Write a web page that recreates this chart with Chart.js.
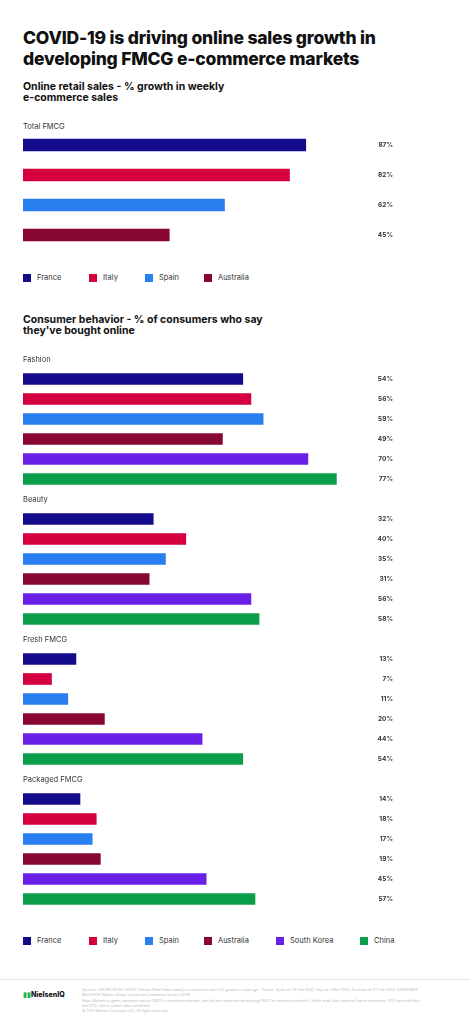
<!DOCTYPE html>
<html>
<head>
<meta charset="utf-8">
<script src="https://cdn.jsdelivr.net/npm/chart.js@4"></script>
<style>
  body { margin:0; width:470px; height:1023px; background:#fff; font-family:Inter, "Noto Sans", sans-serif; color:#111; position:relative; overflow:hidden; }
  .abs { position:absolute; }
  h1 { position:absolute; left:23px; top:27px; margin:0; font-size:17.5px; line-height:21px; font-weight:800; letter-spacing:-0.2px; }
  .sub { position:absolute; left:23px; margin:0; font-size:10.5px; line-height:11px; font-weight:700; }
  .lg { position:absolute; font-size:7.5px; color:#333; display:flex; align-items:center; }
  .lg i { display:inline-block; width:8px; height:8px; margin-right:6px; }
  .cat { position:absolute; left:23px; font-size:7.5px; color:#333; }
  canvas { position:absolute; left:0; }
  .foot { position:absolute; left:82px; top:988px; font-size:3.6px; line-height:5.3px; color:#bbb; width:345px; }
</style>
</head>
<body>
<h1>COVID-19 is driving online sales growth in<br>developing FMCG e-commerce markets</h1>
<p class="sub" style="top:81px">Online retail sales - % growth in weekly<br>e-commerce sales</p>
<div class="cat" style="top:122px">Total FMCG</div>
<canvas id="c1" style="top:130px" width="470" height="120"></canvas>
<div id="lg1"></div>
<p class="sub" style="top:314px">Consumer behavior - % of consumers who say<br>they've bought online</p>
<canvas id="c2" style="top:349px" width="470" height="560"></canvas>
<div id="lg2"></div>
<div class="abs" style="left:0;top:979px;width:470px;border-top:1px solid #e4e4e4"></div>
<div class="abs" style="left:23px;top:990px;font-size:7px;font-weight:800;color:#111"><span style="color:#1db954">&#9646;&#9646;</span>NielsenIQ</div>
<div class="foot">Sources: ONLINE RETAIL SALES: Nielsen Retail Sales weekly e-commerce sales (%) growth vs year ago - France, Spain wk 24 Feb 2020, Italy wk 2 Mar 2020, Australia wk 22 Feb 2020. CONSUMER BEHAVIOR: Nielsen Global Connected Commerce Survey (2019)<br>Note: Markets in green represent mature FMCG e-commerce markets, and the rest represent developing FMCG e-commerce markets. Online retail sales data for France represents 74% home delivery and 73% click &amp; collect sales combined.<br>© 2021 Nielsen Consumer LLC. All rights reserved.</div>
<script>
const countries = ['France','Italy','Spain','Australia','South Korea','China'];
const colors = ['#140a8c','#d5003f','#2a7ff0','#870633','#6a1fe6','#0a9e4a'];

const totalFmcg = [87, 82, 62, 45];

const groups = ['Fashion','Beauty','Fresh FMCG','Packaged FMCG'];
const fashion = [54, 56, 59, 49, 70, 77];
const beauty = [32, 40, 35, 31, 56, 58];
const freshFmcg = [13, 7, 11, 20, 44, 54];
const packagedFmcg = [14, 18, 17, 19, 45, 57];

const valueLabels = {
  id: 'valueLabels',
  afterDatasetsDraw(chart) {
    const ctx = chart.ctx;
    const ds = chart.data.datasets[0];
    const meta = chart.getDatasetMeta(0);
    ctx.save();
    ctx.font = '700 6.5px Inter, "Noto Sans", sans-serif';
    ctx.fillStyle = '#333';
    ctx.textAlign = 'right';
    ctx.textBaseline = 'middle';
    meta.data.forEach((bar, i) => {
      if (ds.data[i] == null) return;
      ctx.fillText(ds.data[i] + '%', 393, bar.y);
    });
    ctx.restore();
  }
};

function makeChart(id, labels, data, barColors, rightPad, thickness) {
  new Chart(document.getElementById(id), {
    type: 'bar',
    data: { labels: labels, datasets: [{ data: data, backgroundColor: barColors, barThickness: thickness }] },
    options: {
      indexAxis: 'y',
      responsive: false,
      animation: false,
      layout: { padding: { left: 23, right: rightPad, top: 0, bottom: 0 } },
      scales: {
        x: { min: 0, max: 100, display: false },
        y: { display: false }
      },
      plugins: { legend: { display: false }, tooltip: { enabled: false } }
    },
    plugins: [valueLabels]
  });
}

// Chart 1 - total FMCG
makeChart('c1', countries.slice(0, 4), totalFmcg, colors.slice(0, 4), 122, 12);

// Chart 2 - one header row per group, then six bars
const rows = [], vals = [], cols = [];
[fashion, beauty, freshFmcg, packagedFmcg].forEach((arr, g) => {
  rows.push(groups[g]); vals.push(null); cols.push('#fff');
  arr.forEach((v, i) => { rows.push(groups[g] + ' ' + countries[i]); vals.push(v); cols.push(colors[i]); });
});
makeChart('c2', rows, vals, cols, 40, 11);

// group headers
groups.forEach((g, i) => {
  const d = document.createElement('div');
  d.className = 'cat';
  d.style.top = (355 + i * 140) + 'px';
  d.textContent = g;
  document.body.appendChild(d);
});

// legends
function legend(id, n, top, xs) {
  const box = document.getElementById(id);
  for (let i = 0; i < n; i++) {
    const d = document.createElement('div');
    d.className = 'lg';
    d.style.left = xs[i] + 'px';
    d.style.top = top + 'px';
    d.innerHTML = '<i style="background:' + colors[i] + '"></i>' + countries[i];
    box.appendChild(d);
  }
}
legend('lg1', 4, 273, [23, 89, 145, 204]);
legend('lg2', 6, 936, [23, 89, 145, 204, 276, 360]);
</script>
</body>
</html>
